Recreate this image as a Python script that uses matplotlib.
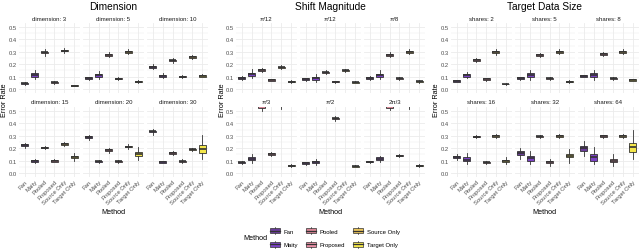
import matplotlib
matplotlib.use('Agg')
import matplotlib.pyplot as plt
from matplotlib.patches import Rectangle
from matplotlib.lines import Line2D
from matplotlib.legend_handler import HandlerBase

plt.rcParams['font.family'] = ['Liberation Sans', 'DejaVu Sans']

methods = ["Fan", "Maity", "Pooled", "Proposed", "Source Only", "Target Only"]
colors = ["#6a3d9a", "#7b42c4", "#d98596", "#e990a6", "#e9c45a", "#f3e64a"]

group_titles = ["Dimension", "Shift Magnitude", "Target Data Size"]
dim_panels = ["dimension: 3", "dimension: 5", "dimension: 10",
              "dimension: 15", "dimension: 20", "dimension: 30"]
shift_panels = ["π/12", "π/12", "π/8", "π/3", "π/2", "2π/3"]
size_panels = ["shares: 2", "shares: 5", "shares: 8",
               "shares: 16", "shares: 32", "shares: 64"]

# ---- Dimension ----
dim_med = [[0.045, 0.113, 0.295, 0.054, 0.310, 0.028],
           [0.088, 0.110, 0.275, 0.082, 0.300, 0.060],
           [0.180, 0.105, 0.230, 0.098, 0.260, 0.105],
           [0.226, 0.097, 0.205, 0.097, 0.234, 0.131],
           [0.290, 0.093, 0.185, 0.093, 0.213, 0.155],
           [0.335, 0.088, 0.163, 0.093, 0.190, 0.190]]
dim_q1 = [[0.040, 0.100, 0.288, 0.049, 0.303, 0.025],
          [0.082, 0.097, 0.268, 0.077, 0.293, 0.056],
          [0.173, 0.098, 0.223, 0.093, 0.253, 0.100],
          [0.219, 0.092, 0.199, 0.092, 0.227, 0.122],
          [0.283, 0.088, 0.178, 0.088, 0.207, 0.138],
          [0.328, 0.083, 0.156, 0.088, 0.184, 0.162]]
dim_q3 = [[0.050, 0.125, 0.300, 0.059, 0.316, 0.031],
          [0.093, 0.123, 0.282, 0.088, 0.307, 0.064],
          [0.187, 0.112, 0.237, 0.103, 0.267, 0.110],
          [0.233, 0.102, 0.211, 0.102, 0.241, 0.140],
          [0.297, 0.098, 0.192, 0.098, 0.219, 0.168],
          [0.342, 0.093, 0.170, 0.098, 0.196, 0.225]]
dim_lo = [[0.035, 0.080, 0.270, 0.043, 0.290, 0.022],
          [0.075, 0.078, 0.255, 0.070, 0.280, 0.050],
          [0.162, 0.085, 0.210, 0.087, 0.240, 0.093],
          [0.205, 0.082, 0.190, 0.085, 0.215, 0.100],
          [0.270, 0.080, 0.165, 0.082, 0.195, 0.105],
          [0.310, 0.077, 0.145, 0.080, 0.175, 0.110]]
dim_hi = [[0.055, 0.150, 0.320, 0.065, 0.330, 0.034],
          [0.100, 0.145, 0.295, 0.095, 0.320, 0.070],
          [0.198, 0.125, 0.250, 0.110, 0.275, 0.117],
          [0.245, 0.112, 0.220, 0.110, 0.250, 0.165],
          [0.310, 0.105, 0.200, 0.105, 0.230, 0.210],
          [0.355, 0.100, 0.180, 0.110, 0.200, 0.310]]

# ---- Shift Magnitude ----
shift_med = [[0.090, 0.120, 0.155, 0.072, 0.175, 0.060],
             [0.080, 0.085, 0.135, 0.057, 0.152, 0.055],
             [0.090, 0.110, 0.275, 0.085, 0.300, 0.062],
             [0.085, 0.115, 0.540, 0.155, 0.580, 0.060],
             [0.080, 0.090, 0.620, 0.440, 0.650, 0.055],
             [0.090, 0.115, 0.540, 0.140, 0.580, 0.060]]
shift_q1 = [[0.084, 0.107, 0.148, 0.067, 0.169, 0.056],
            [0.075, 0.072, 0.129, 0.053, 0.147, 0.051],
            [0.084, 0.097, 0.268, 0.080, 0.293, 0.057],
            [0.080, 0.103, 0.525, 0.149, 0.570, 0.056],
            [0.075, 0.080, 0.610, 0.433, 0.640, 0.051],
            [0.085, 0.105, 0.525, 0.134, 0.570, 0.056]]
shift_q3 = [[0.096, 0.133, 0.162, 0.077, 0.181, 0.064],
            [0.085, 0.098, 0.141, 0.061, 0.157, 0.059],
            [0.096, 0.123, 0.282, 0.090, 0.307, 0.067],
            [0.090, 0.127, 0.550, 0.161, 0.590, 0.064],
            [0.085, 0.100, 0.630, 0.447, 0.660, 0.059],
            [0.095, 0.125, 0.550, 0.146, 0.590, 0.064]]
shift_lo = [[0.075, 0.090, 0.140, 0.062, 0.160, 0.050],
            [0.068, 0.055, 0.120, 0.048, 0.140, 0.046],
            [0.075, 0.080, 0.255, 0.073, 0.280, 0.050],
            [0.074, 0.080, 0.500, 0.140, 0.515, 0.050],
            [0.068, 0.065, 0.590, 0.420, 0.620, 0.046],
            [0.078, 0.090, 0.505, 0.128, 0.520, 0.050]]
shift_hi = [[0.105, 0.160, 0.172, 0.083, 0.190, 0.070],
            [0.092, 0.120, 0.150, 0.066, 0.163, 0.064],
            [0.105, 0.150, 0.295, 0.097, 0.320, 0.074],
            [0.096, 0.155, 0.570, 0.170, 0.620, 0.070],
            [0.092, 0.115, 0.650, 0.460, 0.680, 0.064],
            [0.100, 0.140, 0.570, 0.152, 0.620, 0.070]]

# ---- Target Data Size ----
size_med = [[0.065, 0.110, 0.235, 0.080, 0.300, 0.040],
            [0.088, 0.110, 0.275, 0.085, 0.300, 0.060],
            [0.105, 0.110, 0.285, 0.085, 0.300, 0.073],
            [0.127, 0.107, 0.293, 0.086, 0.300, 0.097],
            [0.161, 0.118, 0.295, 0.088, 0.300, 0.140],
            [0.200, 0.125, 0.297, 0.097, 0.300, 0.210]]
size_q1 = [[0.060, 0.100, 0.229, 0.075, 0.292, 0.037],
           [0.083, 0.097, 0.268, 0.080, 0.293, 0.056],
           [0.100, 0.097, 0.278, 0.080, 0.293, 0.068],
           [0.120, 0.095, 0.287, 0.081, 0.294, 0.090],
           [0.145, 0.100, 0.289, 0.080, 0.294, 0.125],
           [0.180, 0.100, 0.291, 0.085, 0.294, 0.170]]
size_q3 = [[0.070, 0.120, 0.241, 0.085, 0.308, 0.043],
           [0.093, 0.125, 0.282, 0.090, 0.307, 0.064],
           [0.110, 0.125, 0.292, 0.090, 0.307, 0.078],
           [0.135, 0.125, 0.299, 0.091, 0.306, 0.105],
           [0.175, 0.135, 0.301, 0.097, 0.306, 0.155],
           [0.215, 0.155, 0.303, 0.110, 0.306, 0.245]]
size_lo = [[0.055, 0.085, 0.220, 0.068, 0.275, 0.034],
           [0.076, 0.075, 0.260, 0.073, 0.280, 0.050],
           [0.094, 0.075, 0.265, 0.073, 0.280, 0.062],
           [0.105, 0.075, 0.280, 0.070, 0.285, 0.070],
           [0.110, 0.075, 0.280, 0.060, 0.285, 0.080],
           [0.140, 0.070, 0.280, 0.060, 0.285, 0.110]]
size_hi = [[0.076, 0.135, 0.250, 0.092, 0.325, 0.046],
           [0.100, 0.150, 0.290, 0.097, 0.320, 0.070],
           [0.116, 0.150, 0.300, 0.097, 0.320, 0.084],
           [0.155, 0.160, 0.305, 0.100, 0.315, 0.125],
           [0.200, 0.180, 0.310, 0.115, 0.315, 0.190],
           [0.260, 0.210, 0.310, 0.150, 0.315, 0.350]]

groups = [
    (dim_panels, dim_med, dim_q1, dim_q3, dim_lo, dim_hi),
    (shift_panels, shift_med, shift_q1, shift_q3, shift_lo, shift_hi),
    (size_panels, size_med, size_q1, size_q3, size_lo, size_hi),
]

W, H = 640, 251
fig = plt.figure(figsize=(W / 100, H / 100), dpi=100)

group_left = [19, 236, 451]
panel_w = [61, 61, 60.5]
gap = 3
row_top = [23.7, 107.7]
panel_h = 70
YMIN, YMAX = -0.03, 0.535
EDGE = "#333333"
GRID = "#ebebeb"
TICKC = "#4d4d4d"

for g, (titles, med, q1, q3, lo, hi) in enumerate(groups):
    pw = panel_w[g]
    for p in range(6):
        r, c = divmod(p, 3)
        x0 = group_left[g] + c * (pw + gap)
        y0 = row_top[r]
        ax = fig.add_axes([x0 / W, 1 - (y0 + panel_h) / H, pw / W, panel_h / H])
        stats = []
        for m in range(6):
            stats.append(dict(med=med[p][m], q1=q1[p][m], q3=q3[p][m],
                              whislo=lo[p][m], whishi=hi[p][m], fliers=[]))
        bp = ax.bxp(stats, positions=range(1, 7), widths=0.7, patch_artist=True,
                    showcaps=False, showfliers=False,
                    boxprops=dict(edgecolor=EDGE, linewidth=0.6),
                    whiskerprops=dict(color=EDGE, linewidth=0.6),
                    medianprops=dict(color=EDGE, linewidth=1.2))
        for patch, col in zip(bp['boxes'], colors):
            patch.set_facecolor(col)
        ax.set_xlim(0.4, 6.6)
        ax.set_ylim(YMIN, YMAX)
        ax.set_yticks([0, 0.1, 0.2, 0.3, 0.4, 0.5])
        ax.set_yticks([0.05, 0.15, 0.25, 0.35, 0.45], minor=True)
        ax.set_xticks(range(1, 7))
        ax.grid(True, which='major', color=GRID, linewidth=0.6)
        ax.grid(True, which='minor', axis='y', color=GRID, linewidth=0.35)
        ax.set_axisbelow(True)
        for s in ax.spines.values():
            s.set_visible(False)
        ax.tick_params(which='both', length=0, pad=1.5, labelsize=4.2, colors=TICKC)
        if c == 0:
            ax.set_yticklabels(["0.0", "0.1", "0.2", "0.3", "0.4", "0.5"])
        else:
            ax.set_yticklabels([])
        if r == 1:
            ax.set_xticklabels(methods, rotation=45, ha='right',
                               rotation_mode='anchor', fontsize=4.2, color=TICKC)
        else:
            ax.set_xticklabels([])
        ax.text(0.5, 1.0 + 4.7 / panel_h, titles[p], transform=ax.transAxes,
                ha='center', va='center', fontsize=4.3, color="#1a1a1a")
    gcx = (group_left[g] + (3 * pw + 2 * gap) / 2) / W
    fig.text(gcx, 1 - 7.5 / H, group_titles[g], ha='center', va='center', fontsize=7.3)
    fig.text(gcx, 1 - 213 / H, "Method", ha='center', va='center', fontsize=5.2)
    fig.text((group_left[g] - 14) / W, 1 - 100 / H, "Error Rate", rotation=90,
             ha='center', va='center', fontsize=5.2)


class BoxHandler(HandlerBase):
    def create_artists(self, legend, orig_handle, xdescent, ydescent,
                       width, height, fontsize, trans):
        col = orig_handle.get_facecolor()
        bw = width
        bh = height * 0.75
        bx = -xdescent
        by = -ydescent + (height - bh) / 2
        rect = Rectangle((bx, by), bw, bh, facecolor=col, edgecolor=EDGE,
                         linewidth=0.5, transform=trans)
        cx = bx + bw / 2
        cy = by + bh / 2
        med = Line2D([bx, bx + bw], [cy, cy], color=EDGE, linewidth=0.9, transform=trans)
        w1 = Line2D([cx, cx], [by + bh, by + bh + height * 0.2], color=EDGE,
                    linewidth=0.5, transform=trans)
        w2 = Line2D([cx, cx], [by, by - height * 0.2], color=EDGE,
                    linewidth=0.5, transform=trans)
        return [rect, med, w1, w2]


handles = [Rectangle((0, 0), 1, 1, facecolor=c) for c in colors]
fig.legend(handles, methods, handler_map={Rectangle: BoxHandler()},
           loc='center left', bbox_to_anchor=(270 / W, 1 - 238.5 / H),
           ncol=3, frameon=False, fontsize=4.3, handlelength=1.6,
           handleheight=1.3, handletextpad=0.7, columnspacing=1.3,
           labelspacing=1.2, borderpad=0, borderaxespad=0)
fig.text(255 / W, 1 - 238.5 / H, "Method", ha='center', va='center', fontsize=5.2)

fig.savefig("out.png", dpi=100)
